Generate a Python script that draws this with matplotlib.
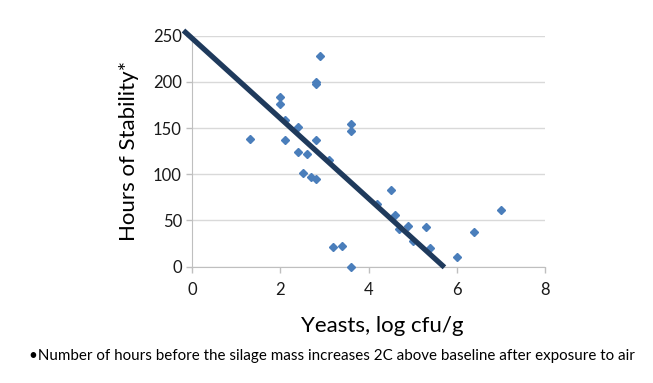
import numpy as np
import matplotlib
matplotlib.use('Agg')
import matplotlib.pyplot as plt

# yeast counts (log cfu/g) and hours of aerobic stability
yeasts = [1.3, 2.0, 2.0, 2.1, 2.1, 2.4, 2.4, 2.5, 2.6, 2.7, 2.8, 2.8, 2.8, 2.8,
          2.9, 3.1, 3.2, 3.4, 3.6, 3.6, 3.6, 4.2, 4.5, 4.6, 4.7, 4.9, 5.0,
          5.3, 5.4, 6.0, 6.4, 7.0]
hours = [138, 184, 176, 159, 137, 151, 124, 101, 122, 97, 95, 137, 200, 198,
         228, 115, 21, 22, 154, 147, 0, 68, 83, 56, 41, 44, 28,
         43, 20, 11, 38, 61]

# trendline
trend_intercept = 247
trend_slope = -43.3
trend_x = [-0.2, 5.72]

plt.rcParams['font.family'] = ['Lato', 'DejaVu Sans']

fig = plt.figure(figsize=(6.53, 3.83), dpi=100)
ax = fig.add_axes([0.2945, 0.3037, 0.540, 0.603])

ax.plot(yeasts, hours, 'D', color='#4a7ebb', markersize=4.5, zorder=3,
        clip_on=False)
tx = np.array(trend_x)
ax.plot(tx, trend_intercept + trend_slope * tx, '-', color='#1f3a5c',
        linewidth=3.8, zorder=4, clip_on=False, solid_capstyle='butt')

ax.set_xlim(0, 8)
ax.set_ylim(0, 250)
ax.set_xticks([0, 2, 4, 6, 8])
ax.set_yticks([0, 50, 100, 150, 200, 250])
ax.grid(axis='y', color='#d9d9d9', linewidth=1)
ax.set_axisbelow(True)
for s in ['top', 'right']:
    ax.spines[s].set_visible(False)
for s in ['left', 'bottom']:
    ax.spines[s].set_color('#bfbfbf')
ax.tick_params(colors='#bfbfbf', labelcolor='#1a1a1a', labelsize=12,
               length=4, width=1)
ax.tick_params(axis='x', pad=7)

ax.set_xlabel('Yeasts, log cfu/g', fontsize=16, labelpad=13)
ax.xaxis.label.set_x(0.54)
ax.set_ylabel('Hours of Stability*', fontsize=16, labelpad=10)

fig.text(0.045, 0.07, '\u2022Number of hours before the silage mass increases 2C above baseline after exposure to air',
         fontsize=10.9, ha='left', va='center')

fig.savefig('out.png', dpi=100)
